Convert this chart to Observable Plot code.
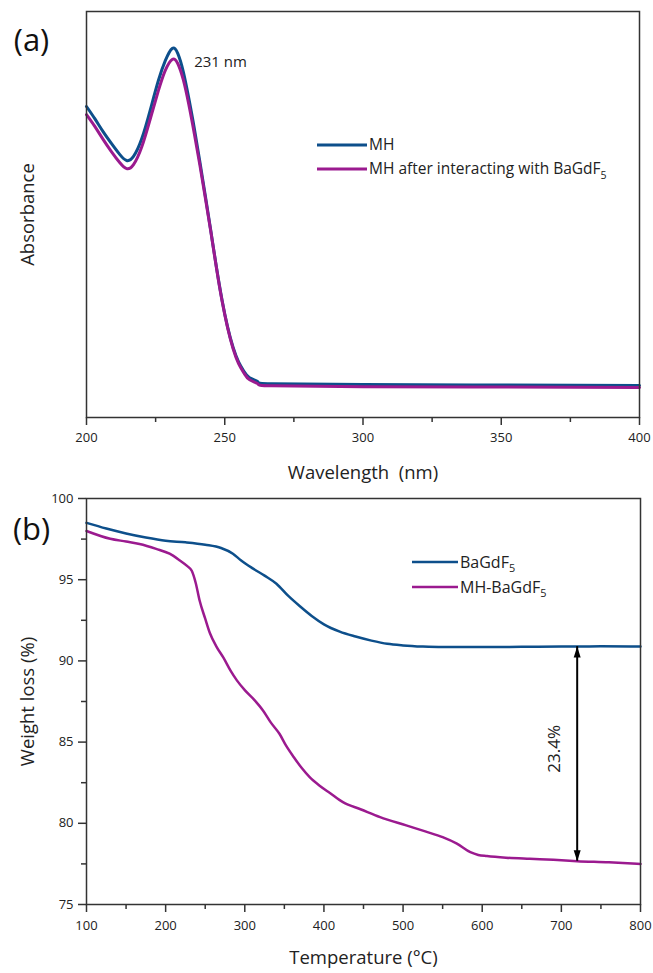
<!DOCTYPE html>
<html><head><meta charset="utf-8">
<script src="https://cdn.jsdelivr.net/npm/d3@7"></script>
<script src="https://cdn.jsdelivr.net/npm/@observablehq/plot@0.6"></script>
<style>
body{margin:0;background:#fff;}
#chart svg{display:block;}
</style>
</head><body><div id="chart"></div>
<script>
// ---------- Panel (a): UV-Vis absorbance ----------
const wavelength = [200,203,206,209,212,214.5,217,220,223,226,228.5,231,233,235,237,239,241,243,245,247,249,251,253,255,257,259,262,267,300,350,400];
const absMH      = [0.766,0.736,0.704,0.675,0.648,0.633,0.643,0.687,0.756,0.830,0.879,0.909,0.897,0.852,0.786,0.712,0.630,0.545,0.458,0.370,0.290,0.224,0.173,0.137,0.113,0.098,0.088,0.083,0.081,0.080,0.079];
const absMHBa    = [0.746,0.717,0.685,0.655,0.628,0.613,0.623,0.667,0.734,0.805,0.855,0.882,0.872,0.832,0.771,0.699,0.622,0.540,0.456,0.368,0.288,0.222,0.170,0.133,0.109,0.093,0.083,0.078,0.076,0.075,0.074];
const uvSeries = ["MH", "MH after interacting with BaGdF_5"];
const wavelengthTicks = [200,250,300,350,400];
const wavelengthMinor = [225,275,325,375];
const peakLabel = "231 nm";

// ---------- Panel (b): TGA ----------
const tempBa   = [100,125,150,175,200,225,250,270,285,295,310,325,340,355,370,385,400,420,440,460,480,500,525,550,600,650,700,720,750,800];
const weightBa = [98.5,98.15,97.85,97.6,97.4,97.3,97.15,96.95,96.6,96.2,95.7,95.25,94.75,94.0,93.35,92.75,92.25,91.8,91.5,91.25,91.05,90.95,90.88,90.85,90.85,90.87,90.88,90.88,90.9,90.88];
const tempMHBa   = [100,130,150,167,188,205,218,227,233,238,243,250,256,264,273,282,290,300,312,323,333,344,352,362,372,382,395,408,424,447,471,504,528,550,568,585,595,606,630,660,690,720,760,800];
const weightMHBa = [98.0,97.52,97.35,97.2,96.9,96.6,96.18,95.85,95.55,94.8,93.7,92.6,91.7,90.9,90.2,89.4,88.8,88.2,87.6,86.95,86.2,85.5,84.8,84.07,83.4,82.84,82.3,81.85,81.3,80.85,80.38,79.87,79.5,79.15,78.75,78.22,78.05,77.98,77.88,77.81,77.75,77.67,77.6,77.5];
const tgaSeries = ["BaGdF_5", "MH-BaGdF_5"];
const tempTicks = [100,200,300,400,500,600,700,800];
const tempMinor = [150,250,350,450,550,650,750];
const weightTicks = [75,80,85,90,95,100];
const weightMinor = [77.5,82.5,87.5,92.5,97.5];
const lossLabel = "23.4%";
const lossTemp = 720;

const colors = ["#0d4f8b", "#9b1a8f"];
const ink = "#333";
const font = "Open Sans";
const labelSize = 18.5;

function addSub(sel, label) {
  const [main, sub] = label.split("_");
  sel.text(main);
  if (sub) sel.append("tspan").attr("dy", "0.45em").attr("font-size", "0.68em").text(sub);
}

function legendMark(items, {left, top, gap, len, width, size}) {
  return (index, scales, values, dims) => {
    const g = d3.create("svg:g");
    items.forEach((label, i) => {
      const y = dims.marginTop + top + i * gap;
      const x = dims.marginLeft + left;
      g.append("line").attr("x1", x).attr("x2", x + len).attr("y1", y).attr("y2", y)
        .attr("stroke", colors[i]).attr("stroke-width", width);
      const t = g.append("text").attr("x", x + len + 2).attr("y", y).attr("dy", "0.35em")
        .attr("text-anchor", "start")
        .attr("font-family", font).attr("font-size", size).attr("fill", "#222");
      addSub(t, label);
    });
    return g.node();
  };
}

const uvData = [
  ...wavelength.map((w, i) => ({wavelength: w, abs: absMH[i], series: uvSeries[0]})),
  ...wavelength.map((w, i) => ({wavelength: w, abs: absMHBa[i], series: uvSeries[1]}))
];
const peak = d3.greatest(uvData.filter(d => d.series === uvSeries[0]), d => d.abs);

const tgaData = [
  ...tempBa.map((t, i) => ({temp: t, weight: weightBa[i], series: tgaSeries[0]})),
  ...tempMHBa.map((t, i) => ({temp: t, weight: weightMHBa[i], series: tgaSeries[1]}))
];
const lossTop = tgaData.find(d => d.series === tgaSeries[0] && d.temp === lossTemp).weight;
const lossBottom = tgaData.find(d => d.series === tgaSeries[1] && d.temp === lossTemp).weight;

const headUp = {draw(ctx){ctx.moveTo(0,0);ctx.lineTo(3.5,11);ctx.lineTo(-3.5,11);ctx.closePath();}};
const headDown = {draw(ctx){ctx.moveTo(0,0);ctx.lineTo(3.5,-11);ctx.lineTo(-3.5,-11);ctx.closePath();}};

const style = {fontFamily: font, fontSize: "13px", color: "#222", background: "#fff"};
const centered = {textAnchor: "middle", lineAnchor: "middle"};

const plotA = Plot.plot({
  width: 653, height: 485,
  marginLeft: 86, marginRight: 14, marginTop: 11, marginBottom: 68,
  style,
  x: {domain: [200, 400], axis: null},
  y: {domain: [0, 1], axis: null},
  color: {domain: uvSeries, range: colors},
  marks: [
    Plot.axisX(wavelengthTicks, {tickSize: 8, tickPadding: 7, label: null, stroke: ink, strokeWidth: 1.5, fill: "#222"}),
    Plot.axisX(wavelengthMinor, {tickSize: 5, text: null, label: null, stroke: ink, strokeWidth: 1.5}),
    Plot.line(uvData, {x: "wavelength", y: "abs", z: "series", stroke: "series", curve: "natural", strokeWidth: 3}),
    Plot.frame({stroke: ink, strokeWidth: 1.5}),
    Plot.text([peak], {x: "wavelength", y: "abs", text: () => peakLabel, dx: 22, dy: 14, textAnchor: "start", fontSize: 15, fill: "#222"}),
    Plot.text(["Wavelength  (nm)"], {frameAnchor: "bottom", dy: 56, fontSize: labelSize, fill: "#222", ...centered}),
    Plot.text(["Absorbance"], {frameAnchor: "left", dx: -58, rotate: -90, fontSize: labelSize, fill: "#222", ...centered}),
    Plot.text(["(a)"], {frameAnchor: "top-left", dx: -55, dy: 30, fontSize: 31, fill: "#111", ...centered}),
    legendMark(uvSeries, {left: 231, top: 134, gap: 24, len: 50, width: 3, size: 15.5})
  ]
});

const plotB = Plot.plot({
  width: 653, height: 488,
  marginLeft: 86, marginRight: 13, marginTop: 13, marginBottom: 69,
  style,
  x: {domain: [100, 800], axis: null},
  y: {domain: [75, 100], axis: null},
  color: {domain: tgaSeries, range: colors},
  marks: [
    Plot.axisX(tempTicks, {tickSize: 8, tickPadding: 8, label: null, stroke: ink, strokeWidth: 1.5, fill: "#222"}),
    Plot.axisX(tempMinor, {tickSize: 5, text: null, label: null, stroke: ink, strokeWidth: 1.5}),
    Plot.axisY(weightTicks, {tickSize: 8, tickPadding: 5, label: null, stroke: ink, strokeWidth: 1.5, fill: "#222"}),
    Plot.axisY(weightMinor, {tickSize: 5, text: null, label: null, stroke: ink, strokeWidth: 1.5}),
    Plot.line(tgaData, {x: "temp", y: "weight", z: "series", stroke: "series", curve: "monotone-x", strokeWidth: 2.5}),
    Plot.frame({stroke: ink, strokeWidth: 1.5}),
    Plot.ruleX([lossTemp], {y1: lossTop, y2: lossBottom, stroke: "#000", strokeWidth: 2}),
    Plot.dot([lossTemp], {x: d => d, y: () => lossTop, symbol: headUp, fill: "#000", stroke: "none", r: 4}),
    Plot.dot([lossTemp], {x: d => d, y: () => lossBottom, symbol: headDown, fill: "#000", stroke: "none", r: 4}),
    Plot.text([lossLabel], {x: () => lossTemp, y: () => (lossTop + lossBottom) / 2, dx: -23, dy: -5, rotate: -90, fontSize: 17, fill: "#222", ...centered}),
    Plot.text(["Temperature (°C)"], {frameAnchor: "bottom", dy: 54, fontSize: labelSize, fill: "#222", ...centered}),
    Plot.text(["Weight loss (%)"], {frameAnchor: "left", dx: -58, rotate: -90, fontSize: labelSize, fill: "#222", ...centered}),
    Plot.text(["(b)"], {frameAnchor: "top-left", dx: -55, dy: 32, fontSize: 31, fill: "#111", ...centered}),
    legendMark(tgaSeries, {left: 326, top: 64, gap: 25, len: 46, width: 2.5, size: 16})
  ]
});

document.getElementById("chart").append(plotA, plotB);
</script>
</body></html>
